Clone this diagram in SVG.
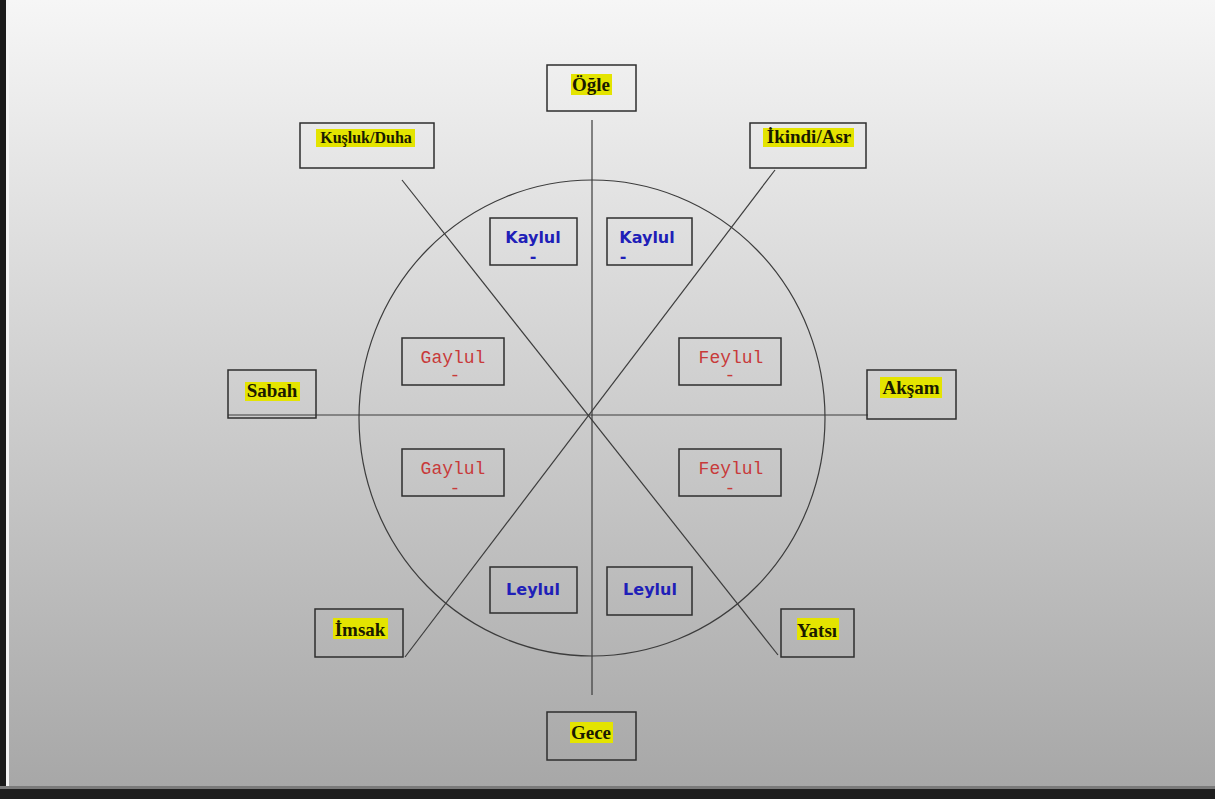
<svg xmlns="http://www.w3.org/2000/svg" width="1215" height="799" viewBox="0 0 1215 799">
<defs>
<linearGradient id="bg" x1="0" y1="0" x2="0" y2="1">
<stop offset="0" stop-color="#f6f6f6"/>
<stop offset="1" stop-color="#a6a6a6"/>
</linearGradient>
<style>
.box{fill:none;stroke:#2e2e2e;stroke-width:1.5}
.hl{fill:#e4e400}
.lbl{font-family:"Liberation Serif","Times New Roman",serif;font-weight:bold;font-size:19px;fill:#1a1a00;text-anchor:middle}
.blue{font-family:"DejaVu Sans",Tahoma,sans-serif;font-weight:bold;font-size:16px;fill:#1f1fb8;text-anchor:middle}
.red{font-family:"Liberation Mono","Courier New",monospace;font-size:18px;fill:#c83a3a;text-anchor:middle}
.ln{stroke:#3c3c3c;stroke-width:1.2;fill:none}
</style>
</defs>
<rect x="0" y="0" width="1215" height="799" fill="url(#bg)"/>
<rect x="0" y="0" width="6" height="799" fill="#1a1a1a"/>
<rect x="6" y="0" width="3" height="790" fill="#f4f4f4"/>
<rect x="0" y="786" width="1215" height="3" fill="#7a7a7a"/>
<rect x="0" y="789" width="1215" height="10" fill="#1e1e1e"/>

<g id="connectors">
<ellipse class="ln" cx="592" cy="418" rx="233" ry="238"/>
<line class="ln" x1="592" y1="120" x2="592" y2="695"/>
<line class="ln" x1="228" y1="415" x2="868" y2="415"/>
<line class="ln" x1="402" y1="180" x2="778" y2="655"/>
<line class="ln" x1="775" y1="170" x2="405" y2="657"/>
</g>

<g id="ogle">
<rect class="box" x="547" y="65" width="89" height="46"/>
<rect class="hl" x="571" y="74" width="41" height="21"/>
<text class="lbl" x="591" y="91">Öğle</text>
</g>
<g id="kusluk">
<rect class="box" x="300" y="123" width="134" height="45"/>
<rect class="hl" x="316" y="129" width="99" height="18"/>
<text class="lbl" x="366" y="143" style="font-size:16px">Kuşluk/Duha</text>
</g>
<g id="ikindi">
<rect class="box" x="750" y="123" width="116" height="45"/>
<rect class="hl" x="763" y="128" width="91" height="19"/>
<text class="lbl" x="809" y="143">İkindi/Asr</text>
</g>
<g id="sabah">
<rect class="box" x="228" y="370" width="88" height="48"/>
<rect class="hl" x="245" y="382" width="55" height="19"/>
<text class="lbl" x="272" y="397">Sabah</text>
</g>
<g id="aksam">
<rect class="box" x="867" y="370" width="89" height="49"/>
<rect class="hl" x="880" y="377" width="62" height="21"/>
<text class="lbl" x="911" y="394">Akşam</text>
</g>
<g id="imsak">
<rect class="box" x="315" y="609" width="88" height="48"/>
<rect class="hl" x="333" y="618" width="55" height="21"/>
<text class="lbl" x="360" y="636">İmsak</text>
</g>
<g id="yatsi">
<rect class="box" x="781" y="609" width="73" height="48"/>
<rect class="hl" x="797" y="618" width="42" height="22"/>
<text class="lbl" x="817" y="637">Yatsı</text>
</g>
<g id="gece">
<rect class="box" x="547" y="712" width="89" height="48"/>
<rect class="hl" x="570" y="722" width="43" height="21"/>
<text class="lbl" x="591" y="739">Gece</text>
</g>

<g id="kaylul-left">
<rect class="box" x="490" y="218" width="87" height="47"/>
<text class="blue" x="533" y="243">Kaylul</text>
<text class="blue" x="533" y="262">-</text>
</g>
<g id="kaylul-right">
<rect class="box" x="607" y="218" width="85" height="47"/>
<text class="blue" x="647" y="243">Kaylul</text>
<text class="blue" x="623" y="262">-</text>
</g>
<g id="gaylul-top">
<rect class="box" x="402" y="338" width="102" height="47"/>
<text class="red" x="453" y="363">Gaylul</text>
<text class="red" x="455" y="381">-</text>
</g>
<g id="feylul-top">
<rect class="box" x="679" y="338" width="102" height="47"/>
<text class="red" x="731" y="363">Feylul</text>
<text class="red" x="730" y="381">-</text>
</g>
<g id="gaylul-bottom">
<rect class="box" x="402" y="449" width="102" height="47"/>
<text class="red" x="453" y="474">Gaylul</text>
<text class="red" x="455" y="494">-</text>
</g>
<g id="feylul-bottom">
<rect class="box" x="679" y="449" width="102" height="47"/>
<text class="red" x="731" y="474">Feylul</text>
<text class="red" x="730" y="494">-</text>
</g>
<g id="leylul-left">
<rect class="box" x="490" y="567" width="87" height="46"/>
<text class="blue" x="533" y="595">Leylul</text>
</g>
<g id="leylul-right">
<rect class="box" x="607" y="567" width="85" height="48"/>
<text class="blue" x="650" y="595">Leylul</text>
</g>
</svg>
